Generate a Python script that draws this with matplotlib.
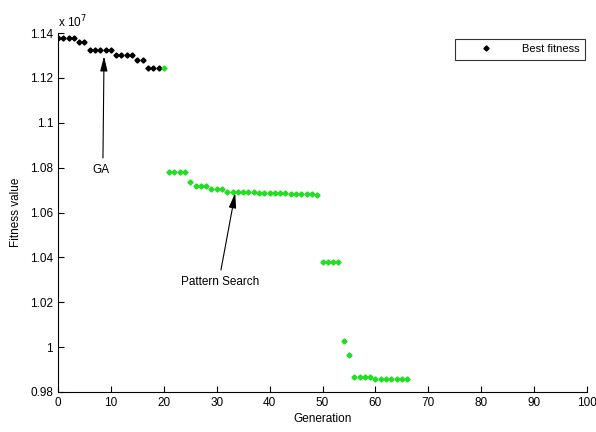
import matplotlib
matplotlib.use("Agg")
import matplotlib.pyplot as plt
from matplotlib.ticker import FuncFormatter, MultipleLocator

plt.rcParams['font.family'] = ['Liberation Sans', 'DejaVu Sans']

# Best fitness per generation (units of 1e7)
ga_gen = list(range(0, 20))
ga_val = [1.1377, 1.1377, 1.1377, 1.1377,
          1.1360, 1.1360,
          1.1326, 1.1326, 1.1326, 1.1326, 1.1326,
          1.1303, 1.1303, 1.1303, 1.1303,
          1.1280, 1.1280,
          1.1244, 1.1244, 1.1244]
ps_gen = list(range(20, 67))
ps_val = [1.1244,
          1.0782, 1.0782, 1.0782, 1.0782,
          1.0735,
          1.0718, 1.0718, 1.0718,
          1.0703, 1.0703, 1.0703,
          1.0691, 1.0691, 1.0691, 1.0691, 1.0691, 1.0691,
          1.0685, 1.0685, 1.0685, 1.0685, 1.0685, 1.0685,
          1.0683, 1.0683, 1.0683, 1.0683, 1.0681, 1.0680,
          1.0378, 1.0378, 1.0378, 1.0378,
          1.0029, 0.9965,
          0.9868, 0.9868, 0.9868, 0.9868,
          0.9860, 0.9860, 0.9860, 0.9860, 0.9860, 0.9860, 0.9860]

fig = plt.figure(figsize=(5.96, 4.32), dpi=100)
ax = fig.add_axes([0.0973, 0.0926, 0.8877, 0.831])

ax.plot(ga_gen, ga_val, linestyle='none', marker='D', markersize=2.6,
        color='black', label='Best fitness')
ax.plot(ps_gen, ps_val, linestyle='none', marker='D', markersize=2.6,
        color='#1fe01f')

ax.set_xlim(0, 100)
ax.set_ylim(0.98, 1.14)
ax.xaxis.set_major_locator(MultipleLocator(10))
ax.yaxis.set_major_locator(MultipleLocator(0.02))
ax.yaxis.set_major_formatter(FuncFormatter(lambda v, p: '%g' % round(v, 4)))
ax.tick_params(direction='in', labelsize=8.5, length=4, width=0.8)
for s in ['top', 'right']:
    ax.spines[s].set_visible(False)
for s in ['left', 'bottom']:
    ax.spines[s].set_linewidth(0.8)

ax.set_xlabel('Generation', fontsize=8.5, labelpad=3)
ax.set_ylabel('Fitness value', fontsize=8.5, labelpad=6)
ax.text(0.0, 1.008, 'x 10$^7$', transform=ax.transAxes, fontsize=8.5,
        ha='left', va='bottom')

leg = ax.legend(loc='upper right', fontsize=8, frameon=True, fancybox=False,
                edgecolor='black', borderpad=0.5, handlelength=4.5,
                handletextpad=1.0, borderaxespad=0.2,
                bbox_to_anchor=(1.0, 0.99))
leg.get_frame().set_linewidth(0.8)

arrow = dict(arrowstyle='-|>,head_width=0.22,head_length=0.9', color='black',
             lw=0.8, shrinkA=0, shrinkB=0)
ax.annotate('', xy=(8.7, 1.1297), xytext=(8.5, 1.0843), arrowprops=arrow)
ax.text(8.1, 1.079, 'GA', fontsize=8.5, ha='center', va='center')
ax.annotate('', xy=(33.5, 1.0687), xytext=(30.8, 1.0344), arrowprops=arrow)
ax.text(30.6, 1.029, 'Pattern Search', fontsize=8.5, ha='center', va='center')

fig.savefig('out.png', dpi=100)
